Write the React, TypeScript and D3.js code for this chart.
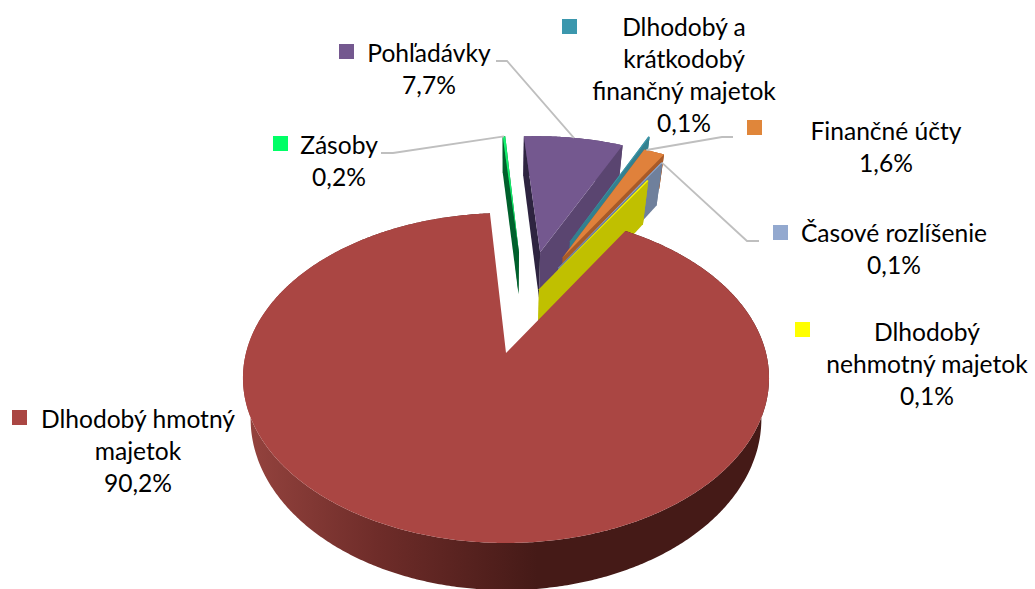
import React, { useEffect, useRef } from 'react';
import * as d3 from 'd3';

const categories = ['Dlhodobý hmotný majetok', 'Zásoby', 'Pohľadávky', 'Dlhodobý a krátkodobý finančný majetok', 'Finančné účty', 'Časové rozlíšenie', 'Dlhodobý nehmotný majetok'];
const shares = [90.2, 0.2, 7.7, 0.1, 1.6, 0.1, 0.1];
const shareLabels = ['90,2%', '0,2%', '7,7%', '0,1%', '1,6%', '0,1%', '0,1%'];
const labelLines = [
  ['Dlhodobý hmotný', 'majetok'],
  ['Zásoby'],
  ['Pohľadávky'],
  ['Dlhodobý a', 'krátkodobý', 'finančný majetok'],
  ['Finančné účty'],
  ['Časové rozlíšenie'],
  ['Dlhodobý', 'nehmotný majetok'],
];
const topColors = ['#AA4643', '#12F06C', '#74588F', '#3C98AC', '#E0813B', '#93A9CF', '#FFFF00'];
const keyColors = ['#AA4643', '#00FF66', '#74588F', '#3B97AD', '#E0863A', '#93A9CF', '#FFFF00'];
const leftWallColors = ['#451A17', '#00602C', '#2E2440', '#33808F', '#A85A28', '#6F809C', '#C0C000'];
const rightWallColors = ['#451A17', '#00602C', '#5A4570', '#33808F', '#A85A28', '#6F809C', '#C0C000'];

// explode of each slice, in units of the pie radius (x to the right, y to the back)
const explode = [[0, 0], [0.055, 0.69], [0.145, 0.69], [0.275, 0.774], [0.24, 0.652], [0.22, 0.578], [0.135, 0.42]];
// how much thicker the far slices look than the perspective gives
const wallScale = [1, 1.15, 1.25, 1, 1.05, 1.3, 1.3];
// label placement: centre x, first baseline, key square x, y
const labelPos = [
  [138, 428, 12, 410],
  [339, 154, 273, 136],
  [429, 62, 339, 44],
  [684, 36, 562, 19],
  [886, 140, 747, 120],
  [894, 242, 773, 225],
  [927, 341, 795, 322],
];
// leader line: start and elbow; the other end is found on the slice rim
const leaders = [null, [[381, 153], [393, 153]], [[496, 61], [507, 61]], null, [[733, 137], [722, 137]], [[759, 241], [747, 241]], null];
// where along its rim each leader touches the slice
const leaderAt = [0.5, 0.5, 0.5, 0.5, 0.1, 0.5, 0.5];

const rad = Math.PI / 180;
const persp = 0.1515, scaleX = 260, scaleY = 161.2, depth = 40, cx = 506, cy = 353;

function project(X: number, Y: number, Z = 0): [number, number] {
  const w = 1 + persp * Y;
  return [cx + scaleX * X / (w * (1 + 0.03 * Z)), cy - scaleY * Y / w + depth * Z / w];
}

export default function App() {
  const ref = useRef<SVGSVGElement>(null);

  useEffect(() => {
    const svg = d3.select(ref.current);
    svg.selectAll('*').remove();

    const arcs = d3.pie<number>().sort(null).startAngle(31.2 * rad).endAngle(391.2 * rad)(shares);
    const line = d3.line();

    const grad = svg.append('defs').append('linearGradient')
      .attr('id', 'wall').attr('gradientUnits', 'userSpaceOnUse')
      .attr('x1', 242).attr('x2', 769).attr('y1', 0).attr('y2', 0);
    grad.append('stop').attr('offset', 0).attr('stop-color', '#96443F');
    grad.append('stop').attr('offset', 0.26).attr('stop-color', '#6E2C29');
    grad.append('stop').attr('offset', 0.56).attr('stop-color', '#451A17');
    grad.append('stop').attr('offset', 1).attr('stop-color', '#451A17');

    const rimPoint = (i: number, a: number, Z = 0) =>
      project(Math.sin(a) + explode[i][0], Math.cos(a) + explode[i][1], Z * wallScale[i]);

    const rimAngles = (d: d3.PieArcDatum<number>) => {
      const n = Math.max(2, Math.ceil((d.endAngle - d.startAngle) / (0.5 * rad)));
      return d3.range(n + 1).map(k => d.startAngle + (d.endAngle - d.startAngle) * k / n);
    };

    // far slices first, the big one last so that it covers them
    const order = [1, 2, 3, 4, 5, 6, 0];
    order.forEach(i => {
      const d = arcs[i];
      const angles = rimAngles(d);
      const apex = (Z: number) => project(explode[i][0], explode[i][1], Z * wallScale[i]);
      const g = svg.append('g');

      const outer = [...angles.map(a => rimPoint(i, a, 0)), ...angles.slice().reverse().map(a => rimPoint(i, a, 1))];
      if (i === 0) {
        g.append('path').attr('d', line(outer) + 'Z').attr('fill', 'url(#wall)');
      } else {
        g.append('path').attr('d', line(outer) + 'Z').attr('fill', rightWallColors[i]);
        g.append('path')
          .attr('d', line([apex(0), rimPoint(i, d.endAngle, 0), rimPoint(i, d.endAngle, 1), apex(1)]) + 'Z')
          .attr('fill', rightWallColors[i]);
        g.append('path')
          .attr('d', line([apex(0), rimPoint(i, d.startAngle, 0), rimPoint(i, d.startAngle, 1), apex(1)]) + 'Z')
          .attr('fill', leftWallColors[i]);
      }
      g.append('path')
        .attr('d', line([apex(0), ...angles.map(a => rimPoint(i, a, 0))]) + 'Z')
        .attr('fill', topColors[i]);
    });

    // leader lines
    leaders.forEach((pts, i) => {
      if (!pts) return;
      const a = arcs[i].startAngle + (arcs[i].endAngle - arcs[i].startAngle) * leaderAt[i];
      svg.append('path')
        .attr('d', line([...(pts as [number, number][]), rimPoint(i, a)]))
        .attr('fill', 'none').attr('stroke', '#BFBFBF').attr('stroke-width', 1.8);
    });

    // keys and labels
    categories.forEach((name, i) => {
      const [tx, ty, kx, ky] = labelPos[i];
      svg.append('rect').attr('x', kx).attr('y', ky).attr('width', 15).attr('height', 15)
        .attr('fill', keyColors[i]).attr('data-name', name);
      const text = svg.append('text').attr('text-anchor', 'middle')
        .attr('font-family', 'Lato, "Open Sans", sans-serif').attr('font-size', 24.6).attr('fill', '#000');
      [...labelLines[i], shareLabels[i]].forEach((s, k) => {
        text.append('tspan').attr('x', tx).attr('y', ty + k * 32).text(s);
      });
    });
  }, []);

  return (
    <svg ref={ref} width={1035} height={589} style={{ position: 'absolute', left: 0, top: 0, background: '#fff' }} />
  );
}
